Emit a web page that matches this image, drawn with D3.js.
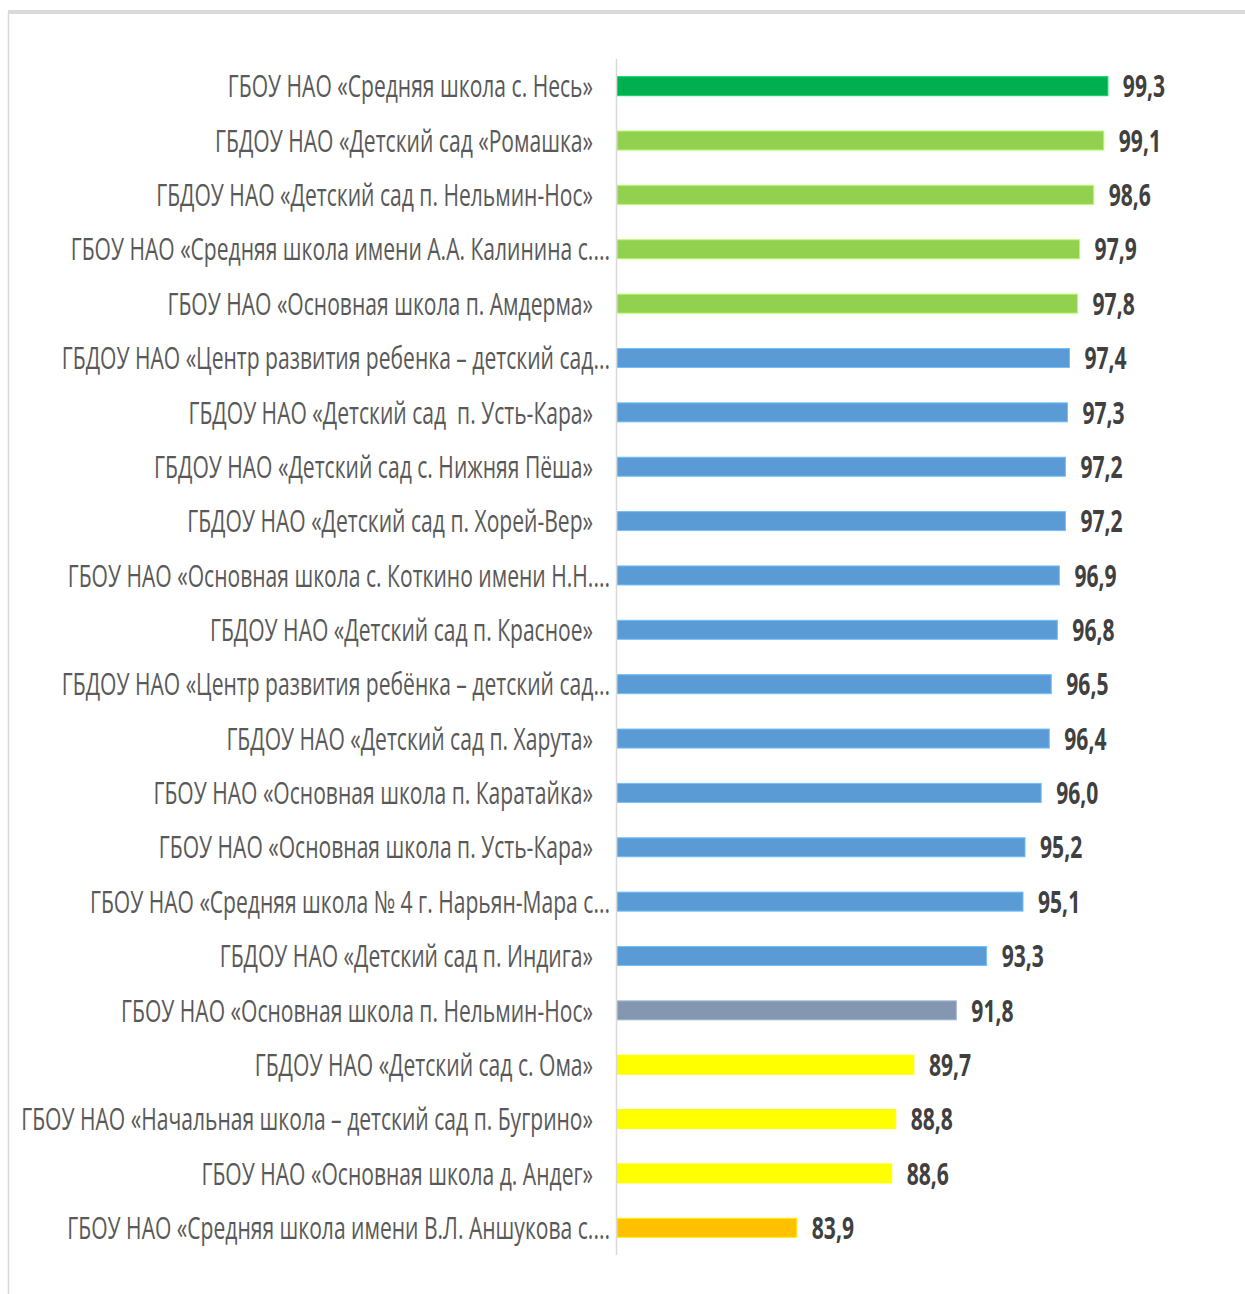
<!DOCTYPE html>
<html>
<head>
<meta charset="utf-8">
<script src="https://cdn.jsdelivr.net/npm/d3@7"></script>
<style>
  html, body { margin: 0; padding: 0; background: #fff; }
  svg { display: block; }
</style>
</head>
<body>
<svg id="chart" width="1245" height="1294"></svg>
<script>
// ── Data ──────────────────────────────────────────────────────────────────────
const labels = [
  "ГБОУ НАО «Средняя школа с. Несь»",
  "ГБДОУ НАО «Детский сад «Ромашка»",
  "ГБДОУ НАО «Детский сад п. Нельмин-Нос»",
  "ГБОУ НАО «Средняя школа имени А.А. Калинина с....",
  "ГБОУ НАО «Основная школа п. Амдерма»",
  "ГБДОУ НАО «Центр развития ребенка – детский сад...",
  "ГБДОУ НАО «Детский сад  п. Усть-Кара»",
  "ГБДОУ НАО «Детский сад с. Нижняя Пёша»",
  "ГБДОУ НАО «Детский сад п. Хорей-Вер»",
  "ГБОУ НАО «Основная школа с. Коткино имени Н.Н....",
  "ГБДОУ НАО «Детский сад п. Красное»",
  "ГБДОУ НАО «Центр развития ребёнка – детский сад...",
  "ГБДОУ НАО «Детский сад п. Харута»",
  "ГБОУ НАО «Основная школа п. Каратайка»",
  "ГБОУ НАО «Основная школа п. Усть-Кара»",
  "ГБОУ НАО «Средняя школа № 4 г. Нарьян-Мара с...",
  "ГБДОУ НАО «Детский сад п. Индига»",
  "ГБОУ НАО «Основная школа п. Нельмин-Нос»",
  "ГБДОУ НАО «Детский сад с. Ома»",
  "ГБОУ НАО «Начальная школа – детский сад п. Бугрино»",
  "ГБОУ НАО «Основная школа д. Андег»",
  "ГБОУ НАО «Средняя школа имени В.Л. Аншукова с...."
];
const values = [99.3, 99.1, 98.6, 97.9, 97.8, 97.4, 97.3, 97.2, 97.2, 96.9, 96.8,
                96.5, 96.4, 96.0, 95.2, 95.1, 93.3, 91.8, 89.7, 88.8, 88.6, 83.9];
// colour group of each bar
const groups = ["top", "high", "high", "high", "high",
                "mid", "mid", "mid", "mid", "mid", "mid", "mid", "mid", "mid", "mid", "mid", "mid",
                "avg", "low", "low", "low", "min"];
const groupColors = { top: "#00b050", high: "#92d050", mid: "#5b9bd5", avg: "#8497b0", low: "#ffff00", min: "#ffc000" };
const axisMin = 75, axisMax = 100;

const rows = labels.map((l, i) => ({ label: l, value: values[i], group: groups[i] }));

// ── Layout ────────────────────────────────────────────────────────────────────
const svg = d3.select("#chart");
const fontFamily = "'Open Sans', 'Noto Sans', sans-serif";

// frame
svg.append("line").attr("x1", 8).attr("x2", 1245).attr("y1", 12).attr("y2", 12)
  .attr("stroke", "#d9d9d9").attr("stroke-width", 4);
svg.append("line").attr("x1", 8.5).attr("x2", 8.5).attr("y1", 12).attr("y2", 1294)
  .attr("stroke", "#d9d9d9").attr("stroke-width", 1.5);

const x = d3.scaleLinear().domain([axisMin, axisMax]).range([617, 1122]);
const y = d3.scaleBand().domain(d3.range(rows.length)).range([59, 1255]).paddingInner(0.65).paddingOuter(0.325);

// bars
svg.append("g").selectAll("rect").data(rows).join("rect")
  .attr("x", x(axisMin))
  .attr("y", (d, i) => y(i))
  .attr("width", d => x(d.value) - x(axisMin))
  .attr("height", y.bandwidth())
  .attr("fill", d => groupColors[d.group])
  .attr("stroke", d => d3.color(groupColors[d.group]).brighter(0.6))
  .attr("stroke-width", 1);

// category axis line
svg.append("line").attr("x1", 616.5).attr("x2", 616.5).attr("y1", 59).attr("y2", 1255)
  .attr("stroke", "#d9d9d9").attr("stroke-width", 1.5);

// category labels (condensed)
const sx = 0.68;
svg.append("g").selectAll("text").data(rows).join("text")
  .attr("transform", (d, i) => {
    const ex = d.label.endsWith("...") ? 610 : 593;
    return `translate(${ex},${y(i) + y.bandwidth() / 2}) scale(${sx},1)`;
  })
  .attr("text-anchor", "end")
  .attr("dy", "0.36em")
  .attr("font-family", fontFamily)
  .attr("font-size", 31)
  .attr("fill", "#595959")
  .attr("xml:space", "preserve")
  .text(d => d.label);

// value labels
svg.append("g").selectAll("text").data(rows).join("text")
  .attr("transform", (d, i) => `translate(${x(d.value) + 15},${y(i) + y.bandwidth() / 2}) scale(0.68,1)`)
  .attr("dy", "0.36em")
  .attr("font-family", fontFamily)
  .attr("font-size", 31)
  .attr("font-weight", "bold")
  .attr("fill", "#404040")
  .text(d => d3.format(".1f")(d.value).replace(".", ","));
</script>
</body>
</html>
